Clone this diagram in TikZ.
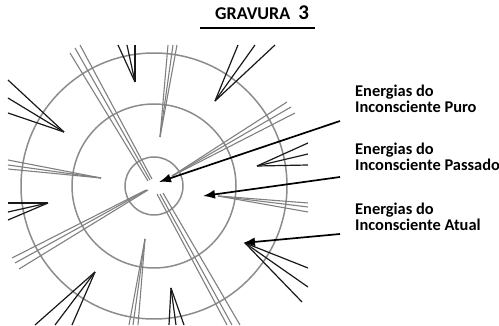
\documentclass[tikz,border=0pt]{standalone}
\usepackage{fontspec}
\setmainfont{Carlito}
\usetikzlibrary{arrows.meta}

\begin{document}
\begin{tikzpicture}[x=1pt,y=-1pt]
	\tikzstyle{ring}=[draw=black!45,line width=1.5pt]
	\tikzstyle{ray}=[draw=black!50,line width=1.1pt]
	\tikzstyle{fan}=[draw=black!90,line width=1.2pt]
	\tikzstyle{pointer}=[draw=black,line width=1.7pt,-{Latex[length=12pt,width=9pt]}]
	\tikzstyle{legend}=[font=\bfseries\fontsize{16.4}{16}\selectfont,align=left,anchor=base west,inner sep=0pt]
	\useasboundingbox (0,0) rectangle (499,326);

	\node[legend,font=\bfseries\fontsize{18}{18}\selectfont] (title) at (215,20) {GRAVURA\ \ {\fontsize{21}{21}\selectfont 3}};
	\draw[line width=1.5pt] (200,28) -- (315,28);

	% circles
	\coordinate (centro) at (154,186);
	\draw[ring] (centro) circle (29pt);
	\draw[ring] (centro) circle (82pt);
	\draw[ring] (centro) circle (133pt);

	% gray rays
	\foreach \ax/\ay/\bx/\by in {
		70/53/148/181, 75/48/150/180, 80/45/152/179,
		168/45/160/137, 173/45/160/137, 177/45/160/137,
		287/102/172/176, 291/107/172/176, 295/113/172/176,
		308/203/218/196, 308/207/218/196, 308/212/218/196,
		157/194/227/325, 160/194/232/325, 163/193/240/325,
		145/239/129/325, 145/239/133/325, 145/239/138/325,
		12/258/146/190, 15/263/147/190, 19/269/148/190,
		8/160/101/178, 8/165/101/178, 8/169/101/178}
		\draw[ray] (\ax,\ay) -- (\bx,\by);

	% black fans
	\foreach \tx/\ty/\ax/\ay/\bx/\by/\cx/\cy in {
		64/132/8/80/8/98/8/113,
		135/82/118/45/127/45/135/45,
		215/101/238/45/255/45/275/45,
		257/166/308/143/308/154/308/165,
		245/243/308/268/308/287/302/302,
		171/288/169/325/176/325/184/325,
		95/272/35/325/55/325/72/325,
		48/203/8/203/8/212/8/220}
	{
		\draw[fan] (\tx,\ty) -- (\ax,\ay);
		\draw[fan] (\tx,\ty) -- (\bx,\by);
		\draw[fan] (\tx,\ty) -- (\cx,\cy);
	}

	% legends
	\node[legend] (puro) at (355,113) {Energias do\\Inconsciente Puro};
	\node[legend] (passado) at (355,171) {Energias do\\Inconsciente Passado};
	\node[legend] (atual) at (355,231) {Energias do\\Inconsciente Atual};

	\coordinate (s1) at (340,121);
	\coordinate (s2) at (340,177);
	\coordinate (s3) at (340,234);
	\coordinate (t1) at (159,182);
	\coordinate (t2) at (203,196);
	\coordinate (t3) at (243,243);
	\draw[pointer] (s1) -- (t1);
	\draw[pointer] (s2) -- (t2);
	\draw[pointer] (s3) -- (t3);
\end{tikzpicture}
\end{document}
